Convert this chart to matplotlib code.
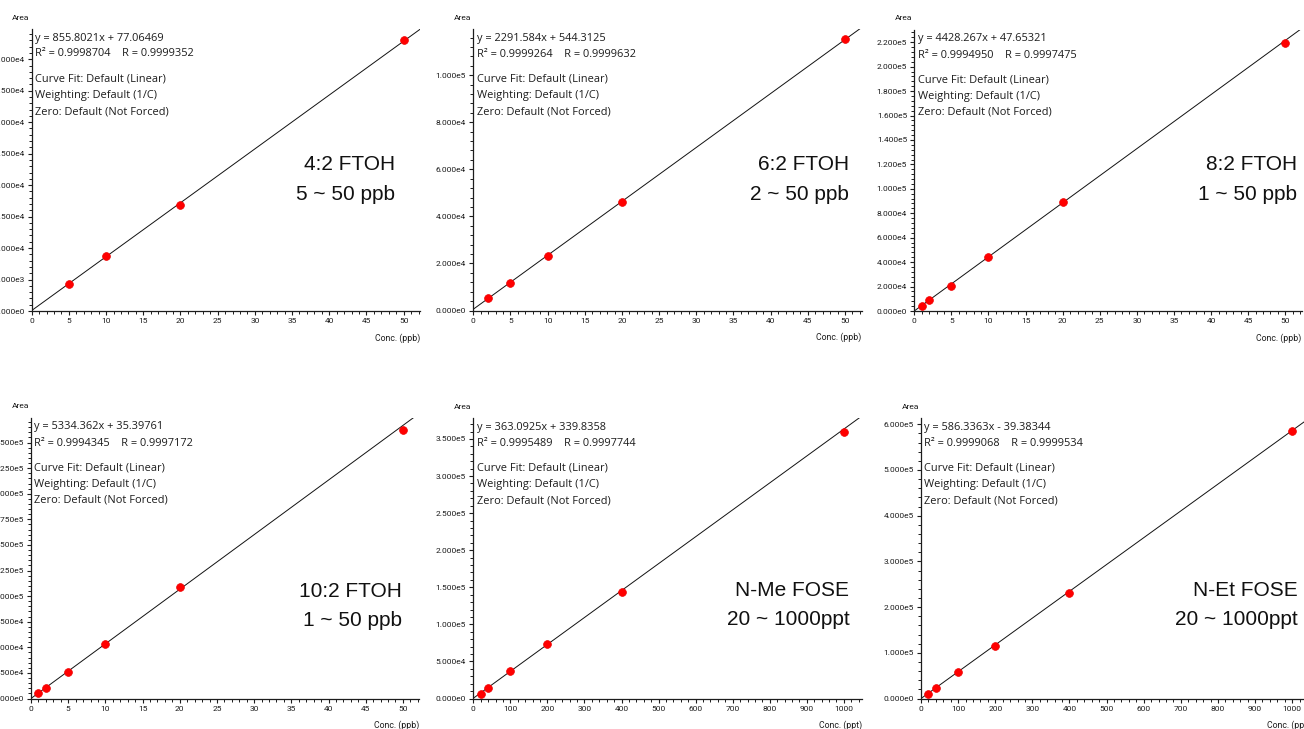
import numpy as np
import matplotlib
matplotlib.use("Agg")
import matplotlib.pyplot as plt
from matplotlib.ticker import MultipleLocator, AutoMinorLocator, FuncFormatter

# ---- calibration data -------------------------------------------------------
names = ["4:2 FTOH", "6:2 FTOH", "8:2 FTOH", "10:2 FTOH", "N-Me FOSE", "N-Et FOSE"]
ranges = ["5 ~ 50 ppb", "2 ~ 50 ppb", "1 ~ 50 ppb", "1 ~ 50 ppb", "20 ~ 1000ppt", "20 ~ 1000ppt"]
units = ["ppb", "ppb", "ppb", "ppb", "ppt", "ppt"]

conc_42 = [5, 10, 20, 50]
area_42 = [4330, 8690, 16850, 43050]
conc_62 = [2, 5, 10, 20, 50]
area_62 = [5100, 11800, 23200, 46300, 115500]
conc_82 = [1, 2, 5, 10, 20, 50]
area_82 = [4200, 8700, 20800, 43800, 89000, 219500]
conc_102 = [1, 2, 5, 10, 20, 50]
area_102 = [5000, 10300, 25500, 53500, 108500, 262500]
conc_nme = [20, 40, 100, 200, 400, 1000]
area_nme = [6500, 14500, 36500, 73500, 144000, 360000]
conc_net = [20, 40, 100, 200, 400, 1000]
area_net = [10500, 23500, 57000, 115500, 231000, 586000]

slopes = [855.8021, 2291.584, 4428.267, 5334.362, 363.0925, 586.3363]
intercepts = [77.06469, 544.3125, 47.65321, 35.39761, 339.8358, -39.38344]
slope_txt = ["855.8021", "2291.584", "4428.267", "5334.362", "363.0925", "586.3363"]
icpt_txt = ["+ 77.06469", "+ 544.3125", "+ 47.65321", "+ 35.39761", "+ 339.8358", "- 39.38344"]
r2_txt = ["0.9998704", "0.9999264", "0.9994950", "0.9994345", "0.9995489", "0.9999068"]
r_txt = ["0.9999352", "0.9999632", "0.9997475", "0.9997172", "0.9997744", "0.9999534"]

concs = [conc_42, conc_62, conc_82, conc_102, conc_nme, conc_net]
areas = [area_42, area_62, area_82, area_102, area_nme, area_net]

# ---- layout (pixels on a 1304 x 729 canvas) --------------------------------
W, H = 1304, 729
# left, right, top, bottom, xmax, ymax, y major step, x major step
boxes = [
    (31.7, 420.0, 29.0, 311.0, 52.2, 44800, 5000, 5),
    (473.3, 861.7, 29.3, 310.5, 52.25, 119500, 20000, 5),
    (914.3, 1301.6, 30.0, 311.0, 52.2, 230000, 20000, 5),
    (31.0, 419.3, 418.0, 698.5, 52.2, 274000, 25000, 5),
    (473.3, 861.7, 418.3, 698.5, 1048, 377900, 50000, 100),
    (921.0, 1310.0, 418.3, 698.5, 1048, 613000, 100000, 100),
]
# right edge, baseline of first line, baseline of second line of the big label
big_label_pos = [
    (395.0, 170.5, 199.5),
    (849.3, 170.5, 199.5),
    (1296.7, 170.5, 199.5),
    (401.7, 596.7, 625.7),
    (849.3, 595.7, 625.0),
    (1297.3, 595.7, 625.0),
]

SMALL = "Open Sans"
TICKF = "Roboto"
INK = "#1c1c1c"


def sci_fmt(v, pos):
    if abs(v) < 1e-9:
        return "0.000e0"
    e = int(np.floor(np.log10(abs(v)) + 1e-9))
    return f"{v / 10 ** e:.3f}e{e}"


fig = plt.figure(figsize=(W / 100, H / 100), dpi=100)
fig.patch.set_facecolor("white")


def fx(px):
    return px / W


def fy(py):
    return 1 - py / H


for i in range(6):
    left, right, top, bottom, xmax, ymax, ystep, xstep = boxes[i]
    ax = fig.add_axes([fx(left), fy(bottom), (right - left) / W, (bottom - top) / H])
    ax.set_xlim(0, xmax)
    ax.set_ylim(0, ymax)
    for s in ("top", "right"):
        ax.spines[s].set_visible(False)
    for s in ("left", "bottom"):
        ax.spines[s].set_color(INK)
        ax.spines[s].set_linewidth(0.9)

    ax.xaxis.set_major_locator(MultipleLocator(xstep))
    ax.xaxis.set_minor_locator(AutoMinorLocator(5))
    ax.yaxis.set_major_locator(MultipleLocator(ystep))
    ax.yaxis.set_minor_locator(AutoMinorLocator(5))
    ax.yaxis.set_major_formatter(FuncFormatter(sci_fmt))
    ax.tick_params(which="major", length=3.0, width=0.8, color=INK, labelcolor=INK,
                   labelsize=6, pad=2.2)
    ax.tick_params(which="minor", length=2.0, width=0.7, color=INK)
    for lab in ax.get_xticklabels() + ax.get_yticklabels():
        lab.set_fontfamily(TICKF)

    # regression line
    xs = np.array([0.0, xmax])
    ax.plot(xs, slopes[i] * xs + intercepts[i], color="#111111", lw=0.7, zorder=2)
    # calibration points
    ax.plot(concs[i], areas[i], "o", color="#ff0000", ms=5.6, mec="#ee0000",
            mew=0.5, zorder=3, clip_on=False)

    # equation and fit settings
    lines = [
        (9, f"y = {slope_txt[i]}x {icpt_txt[i]}"),
        (25, f"R\u00b2 = {r2_txt[i]}    R = {r_txt[i]}"),
        (50, "Curve Fit: Default (Linear)"),
        (66.5, "Weighting: Default (1/C)"),
        (82.5, "Zero: Default (Not Forced)"),
    ]
    for dy, txt in lines:
        ax.annotate(txt, xy=(0, 1), xycoords="axes fraction",
                    xytext=(3.5, -dy), textcoords="offset pixels",
                    ha="left", va="center", fontsize=7.9, family=SMALL, color=INK)

    # axis captions
    ax.annotate("Area", xy=(0, 1), xycoords="axes fraction", xytext=(-11, 11.5),
                textcoords="offset pixels", ha="center", va="center",
                fontsize=6, family=TICKF, color=INK)
    ax.annotate(f"Conc. ({units[i]})", xy=(1, 0), xycoords="axes fraction",
                xytext=(0, -27), textcoords="offset pixels", ha="right",
                va="center", fontsize=6.3, family=TICKF, color=INK)

    # compound name and calibration range
    rx, b1, b2 = big_label_pos[i]
    fig.text(fx(rx), fy(b1), names[i], ha="right", va="baseline",
             fontsize=15, family="Liberation Sans", color="#111111")
    fig.text(fx(rx), fy(b2), ranges[i], ha="right", va="baseline",
             fontsize=15, family="Liberation Sans", color="#111111")

fig.savefig("out.png", dpi=100, facecolor="white")
